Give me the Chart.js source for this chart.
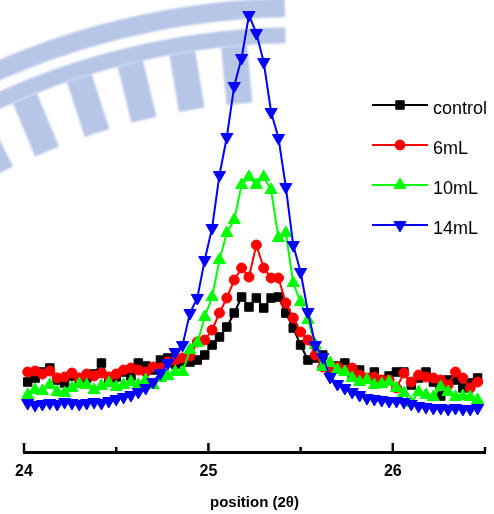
<!DOCTYPE html>
<html>
<head>
<meta charset="utf-8">
<script src="https://cdn.jsdelivr.net/npm/chart.js@4/dist/chart.umd.min.js"></script>
<style>
  body { margin: 0; background: #fff; }
  #wrap { width: 494px; height: 514px; }
</style>
</head>
<body>
<div id="wrap"><canvas id="chartCanvas" width="494" height="514"></canvas></div>
<script>
// x: position in degrees 2θ, one reading every 0.04°
var positions = [24.02, 24.06, 24.10, 24.14, 24.18, 24.22, 24.26, 24.30, 24.34, 24.38,
    24.42, 24.46, 24.50, 24.54, 24.58, 24.62, 24.66, 24.70, 24.74, 24.78,
    24.82, 24.86, 24.90, 24.94, 24.98, 25.02, 25.06, 25.10, 25.14, 25.18,
    25.22, 25.26, 25.30, 25.34, 25.38, 25.42, 25.46, 25.50, 25.54, 25.58,
    25.62, 25.66, 25.70, 25.74, 25.78, 25.82, 25.86, 25.90, 25.94, 25.98,
    26.02, 26.06, 26.10, 26.14, 26.18, 26.22, 26.26, 26.30, 26.34, 26.38,
    26.42, 26.46]

// intensities (arbitrary units)
var control = [70, 74, 80, 84, 72, 69, 76, 69, 74, 78,
    89, 72, 75, 80, 76, 89, 86, 82, 92, 94,
    88, 90, 90, 92, 97, 107, 115, 125, 139, 155,
    145, 154, 144, 154, 155, 139, 124, 107, 92, 94,
    97, 80, 86, 89, 77, 82, 74, 80, 72, 76,
    80, 80, 67, 74, 80, 70, 56, 72, 72, 64,
    69, 74]
var ml6 = [80, 81, 78, 81, 74, 75, 79, 74, 78, 76,
    79, 75, 78, 82, 84, 82, 80, 85, 84, 90,
    92, 94, 96, 110, 112, 122, 139, 154, 172, 184,
    175, 207, 184, 174, 174, 149, 134, 120, 112, 97,
    85, 84, 85, 82, 84, 77, 74, 75, 72, 72,
    64, 79, 70, 77, 75, 74, 72, 67, 80, 74,
    64, 70]
var ml10 = [57, 62, 61, 67, 60, 59, 64, 68, 67, 62,
    66, 69, 65, 67, 70, 67, 72, 67, 74, 76,
    80, 80, 102, 109, 135, 155, 192, 219, 232, 267,
    275, 267, 275, 262, 214, 219, 169, 150, 132, 107,
    85, 89, 82, 80, 74, 70, 72, 67, 68, 70,
    64, 59, 49, 60, 57, 55, 65, 60, 55, 56,
    55, 52]
var ml14 = [49, 47, 48, 49, 48, 50, 49, 48, 49, 50,
    49, 51, 53, 55, 57, 60, 64, 70, 79, 89,
    100, 107, 139, 154, 192, 224, 277, 315, 366, 394,
    437, 419, 390, 340, 314, 265, 207, 180, 140, 107,
    95, 75, 68, 64, 60, 57, 54, 53, 52, 51,
    51, 50, 48, 46, 45, 44, 44, 43, 44, 43,
    43, 44]

var seriesNames = ['control', '6mL', '10mL', '14mL']
var seriesValues = [control, ml6, ml10, ml14]
var seriesColors = ['#000000', '#ff0000', '#00ff00', '#0000ff']
var seriesStyles = ['rect', 'circle', 'triangle', 'triangle']
var seriesRotation = [0, 0, 0, 180]
var seriesRadius = [6, 5, 7, 7]

var xTicks = [24, 25, 26]

var font = '"Liberation Sans", Arial, sans-serif'

// faint logo in the background, top left
var watermark = {
    id: 'watermark',
    beforeDraw(chart) {
        var ctx = chart.ctx
        var cx = 300, cy = 760, r = 762
        var a0 = -Math.PI / 2 - 0.52, a1 = -Math.PI / 2 - 0.02
        ctx.save()
        ctx.filter = 'blur(1px)'
        ctx.fillStyle = '#b7c6e7'
        ctx.beginPath()
        ctx.arc(cx, cy, r, a0, a1)
        ctx.arc(cx, cy, r - 19, a1, a0, true)
        ctx.fill()
        ctx.beginPath()
        ctx.arc(cx, cy, r - 29, a0, a1)
        ctx.arc(cx, cy, r - 45, a1, a0, true)
        ctx.fill()
        var teeth = [-0.47, -0.394, -0.313, -0.239, -0.165, -0.092]
        teeth.forEach(t => {
            ctx.save()
            ctx.translate(cx, cy)
            ctx.rotate(t)
            ctx.fillRect(-13, -(r - 45), 26, 58)
            ctx.restore()
        })
        ctx.restore()
    }
}

// tick marks pointing up into the plot
var innerTicks = {
    id: 'innerTicks',
    afterDraw(chart) {
        var scale = chart.scales.x
        var ctx = chart.ctx
        var base = chart.chartArea.bottom
        ctx.save()
        ctx.strokeStyle = '#000'
        ctx.lineWidth = 2.5
        scale.ticks.forEach(t => {
            var px = scale.getPixelForValue(t.value)
            var len = xTicks.includes(t.value) ? 9 : 5
            ctx.beginPath()
            ctx.moveTo(px, base)
            ctx.lineTo(px, base - len)
            ctx.stroke()
        })
        ctx.restore()
    }
}

// legend drawn as line + marker like the original plot
var lineLegend = {
    id: 'lineLegend',
    afterDraw(chart) {
        var ctx = chart.ctx
        chart.data.datasets.forEach((ds, i) => {
            var y = 105 + i * 40
            ctx.save()
            ctx.strokeStyle = ds.borderColor
            ctx.lineWidth = 2
            ctx.beginPath()
            ctx.moveTo(372, y)
            ctx.lineTo(428, y)
            ctx.stroke()
            ctx.fillStyle = ds.borderColor
            ctx.lineWidth = 1
            Chart.helpers.drawPoint(ctx, {
                pointStyle: ds.pointStyle,
                radius: ds.pointRadius,
                rotation: ds.pointRotation,
                borderWidth: 1
            }, 400, y)
            ctx.fillStyle = '#000'
            ctx.font = '18px ' + font
            ctx.textBaseline = 'middle'
            ctx.fillText(ds.label, 433, y + 4)
            ctx.restore()
        })
    }
}

var datasets = seriesNames.map((name, i) => {
    return {
        label: name,
        data: positions.map((x, j) => ({ x: x, y: seriesValues[i][j] })),
        borderColor: seriesColors[i],
        backgroundColor: seriesColors[i],
        borderWidth: 2,
        tension: 0,
        pointStyle: seriesStyles[i],
        pointRotation: seriesRotation[i],
        pointRadius: seriesRadius[i],
        pointBorderWidth: 1,
        pointBackgroundColor: seriesColors[i],
        pointBorderColor: seriesColors[i],
        clip: false,
        order: 4 - i
    }
})

var ctx = document.getElementById('chartCanvas')
var myChart = new Chart(ctx, {
    type: 'line',
    data: { datasets: datasets },
    options: {
        responsive: false,
        animation: false,
        layout: { padding: { left: 24, right: 9, top: 10, bottom: 0 } },
        plugins: {
            legend: { display: false },
            tooltip: { enabled: false }
        },
        scales: {
            x: {
                type: 'linear',
                min: 24,
                max: 26.5,
                grid: { display: false },
                border: { display: true, color: '#000', width: 3 },
                ticks: {
                    stepSize: 0.5,
                    autoSkip: false,
                    maxRotation: 0,
                    padding: 2,
                    color: '#000',
                    font: { family: font, size: 16, weight: 'bold' },
                    callback: v => xTicks.includes(v) ? String(v) : ''
                },
                title: {
                    display: true,
                    text: 'position (2θ)',
                    color: '#000',
                    font: { family: font, size: 15, weight: 'bold' },
                    padding: { top: 4, bottom: 2 }
                },
                afterFit: s => { s.height = 62 }
            },
            y: { display: false, min: 0, max: 442 }
        }
    },
    plugins: [watermark, innerTicks, lineLegend]
})
</script>
</body>
</html>
